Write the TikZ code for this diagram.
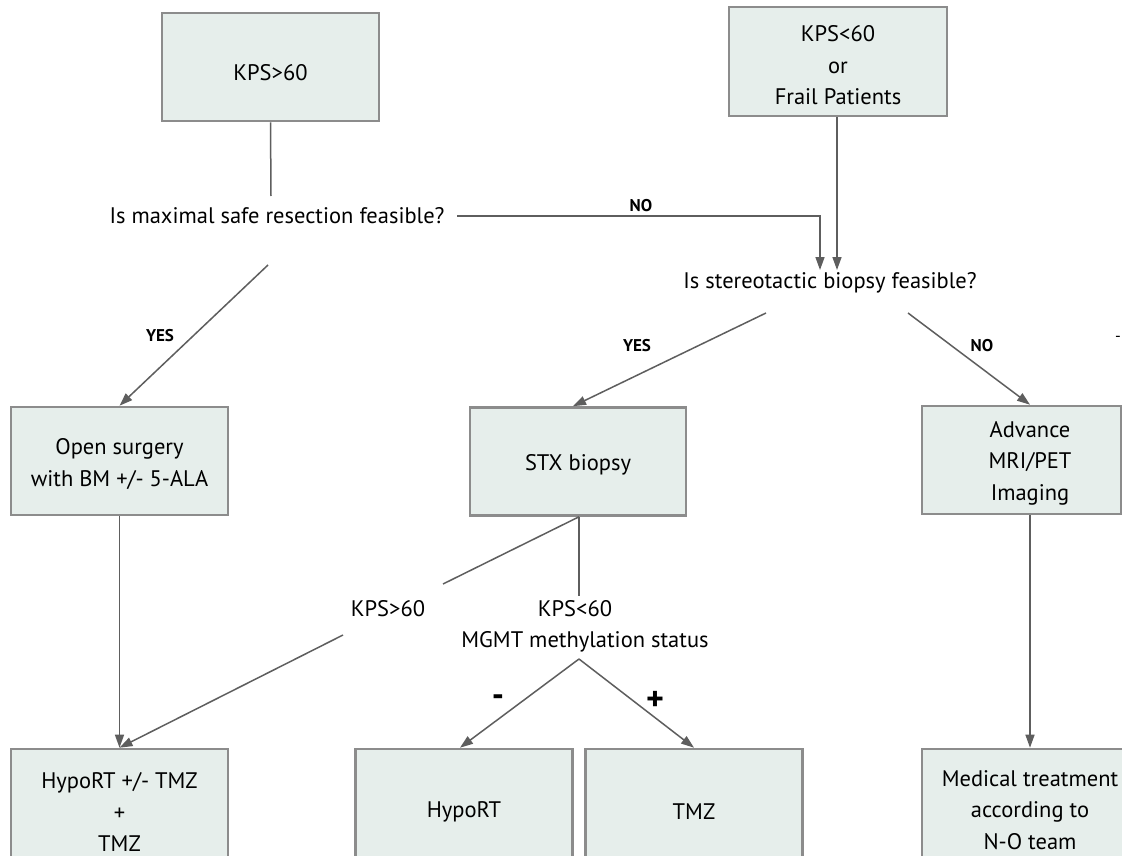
\documentclass[tikz,border=0pt]{standalone}
\usepackage{fontspec}
\setmainfont{PT Sans}
\usetikzlibrary{arrows.meta}
\definecolor{boxfill}{HTML}{E6EEEB}
\definecolor{boxline}{HTML}{8C8C8C}
\definecolor{conn}{HTML}{5E5E5E}
\tikzset{
  box/.style={draw=boxline, line width=2.6pt, fill=boxfill, inner sep=0pt,
    minimum width=217pt, minimum height=108pt},
  boxtxt/.style={inner sep=0pt, align=center, yshift=-4pt,
    font=\fontsize{22.5}{31.5}\selectfont},
  txt/.style={inner sep=0pt, align=center, font=\fontsize{22.5}{31.5}\selectfont},
  lab/.style={inner sep=0pt, font=\fontsize{17}{18}\selectfont\bfseries},
  sign/.style={inner sep=0pt, font=\fontsize{34}{34}\selectfont\bfseries},
  conn/.style={draw=conn, line width=1.5pt},
  arr/.style={conn, -{Triangle[length=13pt,width=9pt]}},
}
\begin{document}
\begin{tikzpicture}[x=1pt,y=-1pt]
\useasboundingbox (0,0) rectangle (1122,856);
\fill[white] (0,0) rectangle (1122,856);
\clip (0,0) rectangle (1122,856);

% top boxes
\node[box, label={[boxtxt,yshift=-2pt]center:KPS>60}] (kpsA) at (270.5,67) {};
\node[box, minimum width=218pt, minimum height=109pt,
  label={[boxtxt]center:{KPS<60\\or\\Frail Patients}}] (kpsB) at (838,61.5) {};

% questions
\node[txt] (q1) at (277,216) {Is maximal safe resection feasible?};
\node[txt] (q2) at (830,283) {Is stereotactic biopsy feasible?};

% middle boxes
\node[box, label={[boxtxt,yshift=1pt]center:{Open surgery\\with BM +/- 5-ALA}}] (open) at (119.5,461) {};
\node[box, minimum width=216pt, label={[boxtxt,yshift=1pt]center:STX biopsy}] (stx) at (578,461.5) {};
\node[box, minimum width=199pt] (adv) at (1021.5,460) {};
\node[boxtxt, yshift=1pt] (advt) at (1030,460) {Advance\\MRI/PET\\Imaging};

% labels under STX
\node[txt] (k1) at (388,609) {KPS>60};
\node[txt] (k2) at (575,609) {KPS<60};
\node[txt] (mgmt) at (585,642) {MGMT methylation status};

% bottom boxes
\node[box, minimum height=122pt, label={[boxtxt,yshift=2pt]center:{HypoRT +/- TMZ\\+\\TMZ}}] (h1) at (119.5,810) {};
\node[box, minimum height=122pt, label={[boxtxt,yshift=2pt]center:HypoRT}] (h2) at (464,810) {};
\node[box, minimum height=122pt, label={[boxtxt,yshift=2pt]center:TMZ}] (h3) at (694,810) {};
\node[box, minimum width=216pt, minimum height=122pt,
  label={[boxtxt,yshift=4pt]center:{Medical treatment\\according to\\N-O team}}] (h4) at (1030,810) {};

% branch labels
\node[lab] (no1) at (641,206) {NO};
\node[lab] (yes1) at (160,336) {YES};
\node[lab] (yes2) at (637,346) {YES};
\node[lab] (no2) at (982,346) {NO};
\node[inner sep=0pt, font=\fontsize{16}{18}\selectfont] (dash) at (1118,339) {-};
\node[sign] (minus) at (498,701) {-};
\node[sign] (plus) at (655,701) {+};

% helper coordinates
\coordinate (c1) at (271,196);
\coordinate (c2s) at (457,216);
\coordinate (c2k) at (820,216);
\coordinate (c2e) at (820,270);
\coordinate (c3e) at (837,270);
\coordinate (c4s) at (268,265);
\coordinate (c5s) at (766,313);
\coordinate (c6s) at (908,313);
\coordinate (c8e) at (579,596);
\coordinate (c9e) at (443,584);
\coordinate (c10s) at (343,635);
\coordinate (apex) at (579,659);

% connectors
\draw[conn] (kpsA.south) -- (c1);
\draw[arr] (c2s) -- (c2k) -- (c2e);
\draw[arr] (kpsB.south -| c3e) -- (c3e);
\draw[arr] (c4s) -- (open.north);
\draw[arr] (c5s) -- (stx.north -| 573,0);
\draw[arr] (c6s) -- (adv.north -| advt);
\draw[arr] (open.south) -- (h1.north);
\draw[conn] (stx.south -| c8e) -- (c8e);
\draw[conn] (stx.south -| c8e) -- (c9e);
\draw[arr] (c10s) -- (h1.north);
\draw[arr] (apex) -- (h2.north -| 460,0);
\draw[arr] (apex) -- (h3.north);
\draw[arr] (adv.south -| advt) -- (h4.north);
\end{tikzpicture}
\end{document}
